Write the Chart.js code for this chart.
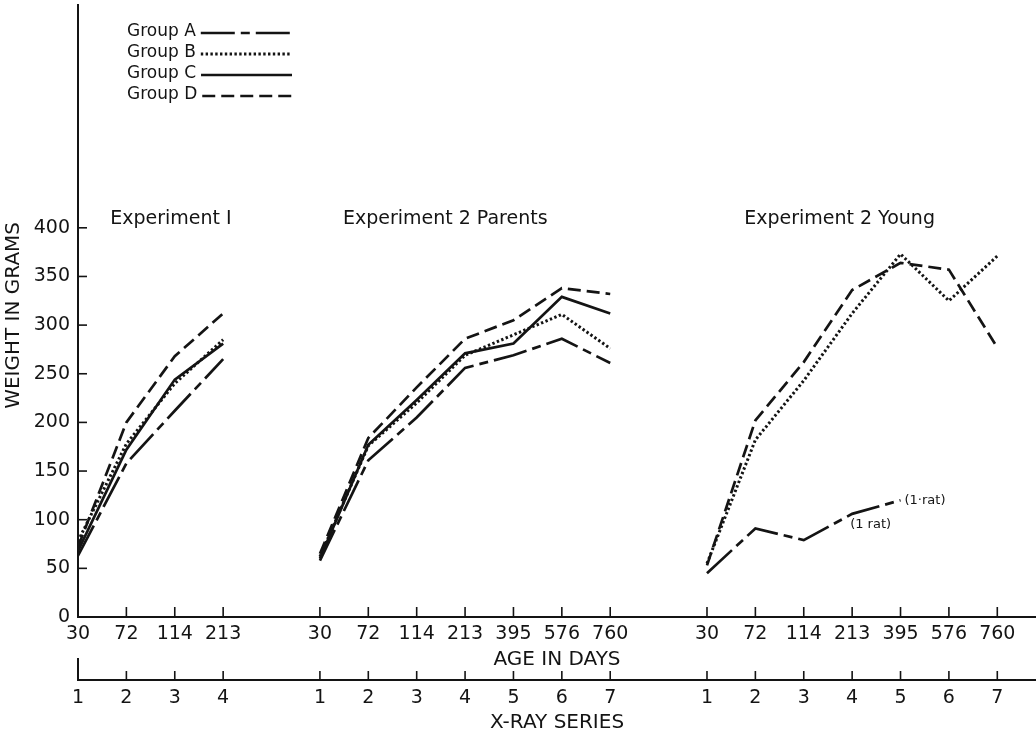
<!DOCTYPE html>
<html>
<head>
<meta charset="utf-8">
<script src="https://cdn.jsdelivr.net/npm/chart.js@4"></script>
<style>
  html, body { margin: 0; padding: 0; background: #fff; }
</style>
</head>
<body>
<canvas id="myChart" width="1036" height="736"></canvas>
<script>
// age at x-ray (days) and x-ray series number, per experiment
const ageExp1 = ['30', '72', '114', '213'];
const ageExp2 = ['30', '72', '114', '213', '395', '576', '760'];
const seriesExp1 = ['1', '2', '3', '4'];
const seriesExp2 = ['1', '2', '3', '4', '5', '6', '7'];
const panelTitles = ['Experiment I', 'Experiment 2 Parents', 'Experiment 2 Young'];
const groupNames = ['Group A', 'Group B', 'Group C', 'Group D'];
const weightTicks = [0, 50, 100, 150, 200, 250, 300, 350, 400];

// body weight in grams - experiment 1
const exp1A = [63, 158, 212, 265];
const exp1B = [78, 178, 240, 285];
const exp1C = [68, 172, 244, 281];
const exp1D = [72, 200, 268, 312];

// experiment 2, parents
const parentsA = [58, 161, 205, 256, 269, 286, 261];
const parentsB = [62, 176, 220, 269, 290, 311, 276];
const parentsC = [60, 177, 223, 271, 281, 329, 312];
const parentsD = [65, 184, 236, 286, 305, 338, 332];

// experiment 2, young (group A down to a single rat after 213 days)
const youngA = [45, 91, 79, 106, 120];
const youngB = [55, 182, 243, 312, 373, 325, 371];
const youngC = [];
const youngD = [53, 202, 262, 336, 364, 357, 277];

const ratNotes = ['(1·rat)', '(1 rat)'];

const ink = '#141414';
const family = "'DejaVu Sans', sans-serif";

// each panel sits on the shared x scale, one unit per x-ray
const starts = [0, 5, 13];

function points(panels) {
  const out = [];
  panels.forEach((vals, i) => {
    if (i > 0) out.push({ x: starts[i] - 1, y: null });
    vals.forEach((v, j) => out.push({ x: starts[i] + j, y: v }));
  });
  return out;
}

const tickPos = [];
const ageLabels = {};
const seriesLabels = {};
[[ageExp1, seriesExp1], [ageExp2, seriesExp2], [ageExp2, seriesExp2]].forEach(([ages, series], i) => {
  ages.forEach((a, j) => {
    const p = starts[i] + j;
    tickPos.push(p);
    ageLabels[p] = a;
    seriesLabels[p] = series[j];
  });
});

const dashes = [[34, 6, 9, 6], [2.4, 2.4], [], [13, 6]];
const widths = [2.7, 3, 2.7, 2.7];
const groupData = [
  [exp1A, parentsA, youngA],
  [exp1B, parentsB, youngB],
  [exp1C, parentsC, youngC],
  [exp1D, parentsD, youngD],
];

function bottomAxis(labels, title, weight, height, pad, titlePad) {
  return {
    type: 'linear',
    axis: 'x',
    position: 'bottom',
    min: 0,
    max: 19.8,
    weight: weight,
    grid: { display: false, drawTicks: false },
    border: { display: true, color: ink, width: 2 },
    afterBuildTicks: (s) => { s.ticks = tickPos.map((v) => ({ value: v })); },
    afterFit: (s) => { s.height = height; s.paddingLeft = 0; s.paddingRight = 0; },
    ticks: {
      autoSkip: false,
      maxRotation: 0,
      padding: pad,
      color: ink,
      font: { family: family, size: 19 },
      callback: (v) => labels[v],
    },
    title: {
      display: true,
      text: title,
      color: ink,
      font: { family: family, size: 20 },
      padding: titlePad,
    },
  };
}

// inward tick marks, legend and text notes
const decor = {
  id: 'decor',
  afterDraw(chart) {
    const { ctx } = chart;
    const { x, x2, y } = chart.scales;
    const seg = (x0, y0, x1, y1) => { ctx.beginPath(); ctx.moveTo(x0, y0); ctx.lineTo(x1, y1); ctx.stroke(); };
    ctx.save();
    ctx.strokeStyle = ink;
    ctx.lineWidth = 1.6;
    weightTicks.forEach((v) => {
      const py = y.getPixelForValue(v);
      seg(x.left, py, x.left + 9, py);
    });
    tickPos.forEach((v) => {
      const px = x.getPixelForValue(v);
      seg(px, x.top, px, x.top - 10);
      seg(px, x2.top, px, x2.top - 9);
    });
    ctx.lineWidth = 2;
    seg(x2.left, x2.top, x2.left, x2.top - 22);

    ctx.fillStyle = ink;
    ctx.textBaseline = 'middle';

    // panel headings
    ctx.font = '19px ' + family;
    ctx.textAlign = 'center';
    [1.92, 7.59, 15.74].forEach((p, i) => {
      ctx.fillText(panelTitles[i], x.getPixelForValue(p), y.getPixelForValue(409));
    });

    // y axis title
    ctx.save();
    ctx.font = '20px ' + family;
    ctx.translate(14, y.getPixelForValue(310));
    ctx.rotate(-Math.PI / 2);
    ctx.fillText('WEIGHT IN GRAMS', 0, 0);
    ctx.restore();

    // legend: name, then a sample of the line style
    ctx.font = '17px ' + family;
    ctx.textAlign = 'left';
    chart.data.datasets.forEach((ds, i) => {
      const ry = 32 + i * 21;
      ctx.fillText(ds.label, 127, ry);
      const w = ctx.measureText(ds.label).width;
      ctx.save();
      ctx.lineWidth = ds.borderWidth;
      ctx.setLineDash(ds.borderDash);
      seg(127 + w + 5, ry + 1, 292, ry + 1);
      ctx.restore();
    });

    // single-rat notes on group A, young
    ctx.font = '13px ' + family;
    const p395 = starts[2] + 4;
    const p213 = starts[2] + 3;
    ctx.fillText(ratNotes[0], x.getPixelForValue(p395) + 4, y.getPixelForValue(youngA[4]));
    ctx.fillText(ratNotes[1], x.getPixelForValue(p213) - 2, y.getPixelForValue(youngA[3]) + 11);
    ctx.restore();
  },
};

const config = {
  type: 'line',
  data: {
    datasets: groupNames.map((name, i) => ({
      label: name,
      data: points(groupData[i]),
      borderColor: ink,
      borderWidth: widths[i],
      borderDash: dashes[i],
      borderCapStyle: 'butt',
      pointRadius: 0,
      tension: 0,
      spanGaps: false,
      fill: false,
    })),
  },
  options: {
    responsive: false,
    animation: false,
    layout: { padding: { top: 5, right: 0, bottom: 0, left: 0 } },
    plugins: {
      legend: { display: false },
      tooltip: { enabled: false },
    },
    scales: {
      x: bottomAxis(ageLabels, 'AGE IN DAYS', 0, 63, 6, { top: 2, bottom: 8 }),
      x2: bottomAxis(seriesLabels, 'X-RAY SERIES', 1, 56, 7, { top: 1, bottom: 1 }),
      y: {
        type: 'linear',
        min: 0,
        max: 629,
        grid: { display: false, drawTicks: false },
        border: { display: true, color: ink, width: 2 },
        afterBuildTicks: (s) => { s.ticks = weightTicks.map((v) => ({ value: v })); },
        afterFit: (s) => { s.width = 78; s.paddingTop = 0; s.paddingBottom = 0; },
        ticks: {
          padding: 8,
          color: ink,
          font: { family: family, size: 19 },
        },
      },
    },
  },
  plugins: [decor],
};

const myChart = new Chart(document.getElementById('myChart'), config);
</script>
</body>
</html>
